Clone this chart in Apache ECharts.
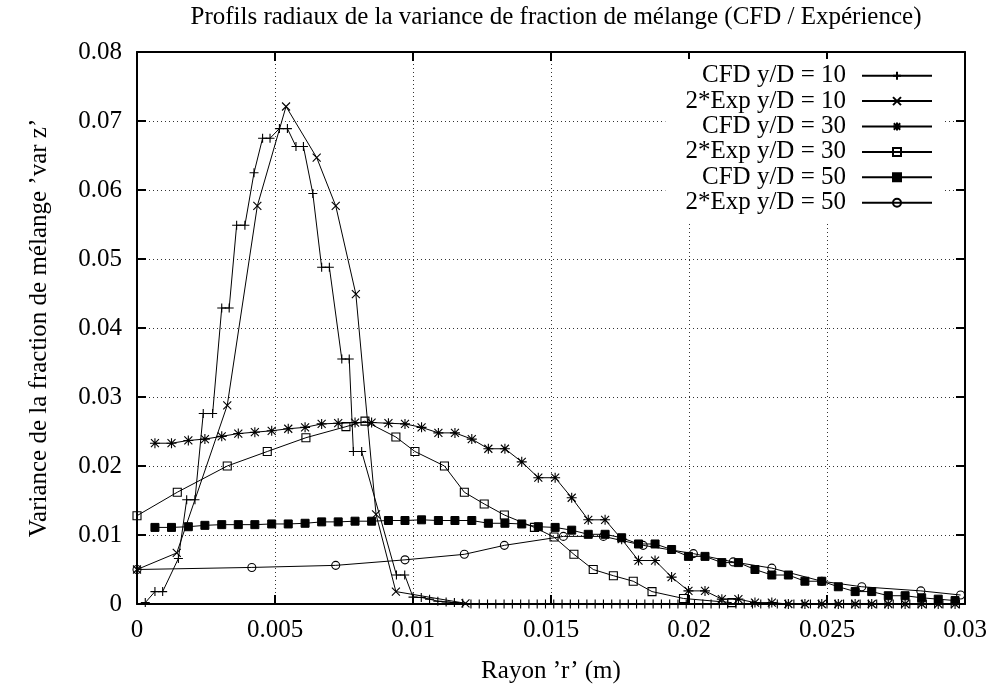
<!DOCTYPE html>
<html>
<head>
<meta charset="utf-8">
<script src="https://cdn.jsdelivr.net/npm/echarts@6/dist/echarts.min.js"></script>
<style>html,body{margin:0;padding:0;background:#fff}#c{width:995px;height:689px}</style>
</head>
<body>
<div id="c"></div>
<script>
// ---- data ----
const titleText = "Profils radiaux de la variance de fraction de mélange (CFD / Expérience)";
const xName = "Rayon ’r’ (m)";
const yName = "Variance de la fraction de mélange ’var z’";
const seriesNames = ["CFD y/D = 10", "2*Exp y/D = 10", "CFD y/D = 30", "2*Exp y/D = 30", "CFD y/D = 50", "2*Exp y/D = 50"];

const cfd10X = [0.0003,0.00065,0.00093,0.0015,0.0018,0.0021,0.0024,0.00274,0.00307,0.00334,0.00361,0.00391,0.00424,0.00455,0.00482,0.00516,0.00545,0.00576,0.00603,0.00637,0.00669,0.00697,0.00742,0.00769,0.00784,0.00814,0.0094,0.0097,0.0100,0.0103,0.0106,0.0109,0.0112,0.0115,0.0118,
  0.0121,0.0124,0.0127,0.0130,0.0133,0.0136,0.0139,0.0142,0.0145,0.0148,0.0151,0.0154,0.0157,0.0160,0.0163,0.0166,0.0169,0.0172,0.0175,0.0178,0.0181,0.0184,0.0187,0.0190,0.0193,0.0196,0.0199,0.0202,0.0205,0.0208,0.0211,0.0214,0.0217,0.0220,0.0223,0.0226,0.0229,0.0232,0.0235,0.0238,0.0241,0.0244,0.0247,0.0250,0.0253,0.0256,0.0259,0.0262,0.0265,0.0268,0.0271,0.0274,0.0277,0.0280,0.0283,0.0286,0.0289,0.0292,0.0295,0.0298];
const cfd10Y = [0.0002,0.0018,0.0018,0.0066,0.0151,0.0151,0.0276,0.0276,0.0429,0.0429,0.0549,0.0549,0.0625,0.0675,0.0675,0.0689,0.0689,0.0663,0.0663,0.0595,0.0488,0.0488,0.0355,0.0355,0.0221,0.0221,0.0042,0.0042,0.0010,0.00095,0.0007,0.0004,0.0003,0.0002,0.0001,
  0,0,0,0,0,0,0,0,0,0,0,0,0,0,0,0,0,0,0,0,0,0,0,0,0,0,0,0,0,0,0,0,0,0,0,0,0,0,0,0,0,0,0,0,0,0,0,0,0,0,0,0,0,0,0,0,0,0,0,0];

const exp10X = [0,0.00144,0.00327,0.00436,0.0054,0.00651,0.0072,0.00793,0.00866,0.00938,0.0119];
const exp10Y = [0.0050,0.0074,0.0288,0.0577,0.0721,0.0647,0.0577,0.0449,0.0130,0.0018,0.0001];

const cfd30X = [0.00065,0.00125,0.00186,0.00246,0.00307,0.00367,0.00427,0.00488,0.00548,0.00609,0.00669,0.00729,0.00790,0.00850,0.00911,0.00971,0.01031,0.01092,0.01152,0.01213,0.01273,0.01333,0.01394,0.01454,0.01515,0.01575,0.01635,0.01696,0.01756,0.01817,0.01877,0.01937,0.01998,0.02058,0.02119,0.02179,0.02239,0.02300,0.02360,0.02420,0.02481,0.02541,0.02602,0.02662,0.02722,0.02783,0.02843,0.02903,0.02964];
const cfd30Y = [0.0233,0.0233,0.0237,0.0239,0.0243,0.0247,0.0249,0.0251,0.0254,0.0256,0.0261,0.0262,0.0263,0.0263,0.0262,0.0261,0.0256,0.0248,0.0248,0.0239,0.0225,0.0225,0.0206,0.0183,0.0183,0.0154,0.0122,0.0122,0.0094,0.0063,0.0063,0.0039,0.0019,0.0019,0.0007,0.0007,0.0002,0.0002,0,0,0,0,0,0,0,0,0,0,0];

const exp30X = [0,0.00146,0.00327,0.00472,0.00612,0.00757,0.00826,0.00938,0.01007,0.01114,0.01186,0.01258,0.01331,0.0144,0.01511,0.01583,0.01653,0.01726,0.01798,0.01866,0.0198,0.02155];
const exp30Y = [0.0128,0.0162,0.0200,0.0221,0.0241,0.0257,0.0265,0.0242,0.0221,0.0200,0.0162,0.0145,0.0129,0.0111,0.0097,0.0072,0.0050,0.0041,0.0033,0.0018,0.0008,0.0002];

const cfd50X = cfd30X;
const cfd50Y = [0.0111,0.0111,0.0112,0.0114,0.0115,0.0115,0.0115,0.0116,0.0116,0.0117,0.0119,0.0119,0.0120,0.0120,0.0121,0.0121,0.0122,0.0121,0.0121,0.0121,0.0117,0.0117,0.0116,0.0112,0.0111,0.0107,0.0101,0.0101,0.0096,0.0087,0.0087,0.0079,0.0069,0.0069,0.0060,0.0060,0.0050,0.0042,0.0042,0.0033,0.0033,0.0025,0.0018,0.0018,0.0012,0.0012,0.0009,0.0007,0.0005];

const exp50X = [0,0.00416,0.0072,0.00971,0.01186,0.01331,0.01545,0.0169,0.01834,0.02016,0.0216,0.023,0.02481,0.02626,0.0284,0.02984];
const exp50Y = [0.0050,0.0053,0.0056,0.0064,0.0072,0.0085,0.0098,0.0098,0.0085,0.0073,0.0061,0.0052,0.0033,0.0025,0.0019,0.0013];

const xTicks = {min: 0, max: 0.03, interval: 0.005};
const yTicks = {min: 0, max: 0.08, interval: 0.01};

// ---- chart ----
const FONT = 'Liberation Serif';
const FS = 25;
const zip = (xs, ys) => xs.map((x, i) => [x, ys[i]]);
const SYM = {
  plus: 'path://M0,5H10M5,0V10',
  cross: 'path://M0,0L10,10M10,0L0,10',
  star: 'path://M0,5H10M5,0V10M1,1L9,9M9,1L1,9',
  box: 'path://M0,0H10V10H0Z',
  circle: 'path://M10,5A5,5 0 1 1 0,5A5,5 0 1 1 10,5Z'
};
function mk(name, data, symbol, size, filled) {
  return {
    name, type: 'line', data, symbol, symbolSize: size, showSymbol: true,
    lineStyle: {color: '#000', width: 1},
    itemStyle: filled ? {color: '#000', borderColor: '#000', borderWidth: 1}
                      : {color: 'rgba(0,0,0,0)', borderColor: '#000', borderWidth: 1.1},
    emphasis: {disabled: true},
    animation: false
  };
}
const series = [
  mk(seriesNames[0], zip(cfd10X, cfd10Y), SYM.plus, 9, false),
  mk(seriesNames[1], zip(exp10X, exp10Y), SYM.cross, 8, false),
  mk(seriesNames[2], zip(cfd30X, cfd30Y), SYM.star, 10, false),
  mk(seriesNames[3], zip(exp30X, exp30Y), SYM.box, 8, false),
  mk(seriesNames[4], zip(cfd50X, cfd50Y), 'rect', 8, true),
  mk(seriesNames[5], zip(exp50X, exp50Y), SYM.circle, 8, false)
];

const chart = echarts.init(document.getElementById('c'), null, {renderer: 'canvas'});
const tickStyle = {show: true, inside: true, length: 9, lineStyle: {color: '#000', width: 2}};
const axisLine = {show: true, onZero: false, lineStyle: {color: '#000', width: 2}};
const grid = {color: '#333', width: 1, type: [1, 3]};
chart.setOption({
  animation: false,
  backgroundColor: '#fff',
  title: {
    text: titleText, left: 551, top: 0, textAlign: 'center',
    textStyle: {fontFamily: FONT, fontSize: FS, fontWeight: 'normal', color: '#000'}
  },
  grid: {left: 137, right: 30, top: 52, bottom: 79, containLabel: false},
  legend: {
    data: seriesNames, orient: 'vertical', align: 'right',
    right: 52, top: 59, itemWidth: 70, itemHeight: 10, itemGap: 0,
    padding: [4, 10, 6, 20], backgroundColor: '#fff',
    textStyle: {fontFamily: FONT, fontSize: FS, color: '#000', lineHeight: 25.4, padding: [0, 11, 0, 0]},
    selectedMode: false
  },
  xAxis: [
    {type: 'value', min: xTicks.min, max: xTicks.max, interval: xTicks.interval,
     name: xName, nameLocation: 'middle', nameGap: 55,
     nameTextStyle: {fontFamily: FONT, fontSize: FS, color: '#000'},
     axisLine, axisTick: tickStyle,
     axisLabel: {fontFamily: FONT, fontSize: FS, color: '#000', margin: 14},
     splitLine: {show: true, lineStyle: grid}},
    {type: 'value', position: 'top', min: xTicks.min, max: xTicks.max, interval: xTicks.interval,
     axisLine, axisTick: tickStyle, axisLabel: {show: false}, splitLine: {show: false}}
  ],
  yAxis: [
    {type: 'value', min: yTicks.min, max: yTicks.max, interval: yTicks.interval,
     name: yName, nameLocation: 'middle', nameGap: 85,
     nameTextStyle: {fontFamily: FONT, fontSize: FS, color: '#000'},
     axisLine, axisTick: tickStyle,
     axisLabel: {fontFamily: FONT, fontSize: FS, color: '#000', margin: 15},
     splitLine: {show: true, lineStyle: grid}},
    {type: 'value', position: 'right', min: yTicks.min, max: yTicks.max, interval: yTicks.interval,
     axisLine, axisTick: tickStyle, axisLabel: {show: false}, splitLine: {show: false}}
  ],
  series
});
</script>
</body>
</html>
